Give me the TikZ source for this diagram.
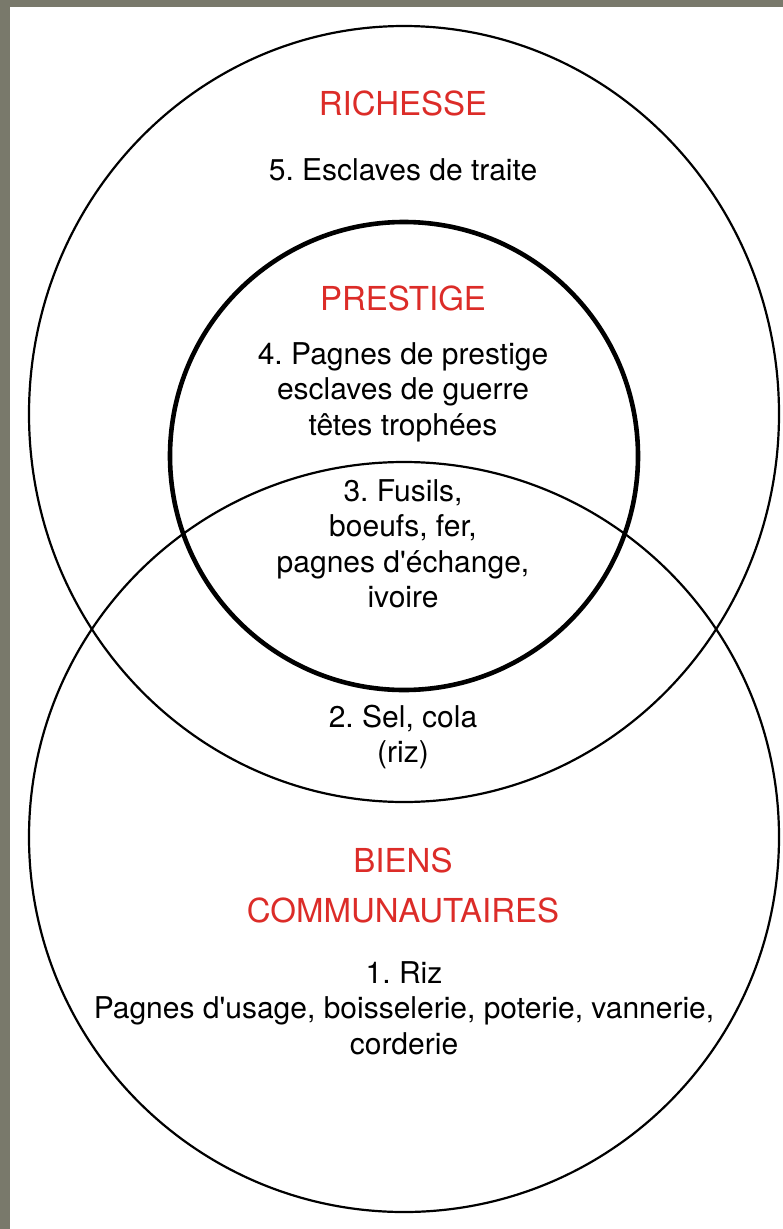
\documentclass[tikz,border=0pt]{standalone}
\usepackage{fontspec}
\setmainfont{TeX Gyre Heros}
\definecolor{frame}{RGB}{121,121,107}
\definecolor{headred}{RGB}{220,44,40}
\newcommand{\apos}{\textquotesingle}
\tikzset{
  ring/.style={draw=black,line width=2.2pt},
  thickring/.style={draw=black,line width=4.6pt},
  heading/.style={text=headred,font=\fontsize{33}{50}\selectfont,align=center,inner sep=0pt},
  body/.style={text=black,font=\fontsize{30}{35.5}\selectfont,align=center,inner sep=0pt}
}
\begin{document}
\frenchspacing
\begin{tikzpicture}[x=1pt,y=-1pt]
\useasboundingbox (0,0) rectangle (783,1229);
\fill[frame] (0,0) rectangle (783,1229);
\fill[white] (10,7) rectangle (783,1229);
% circles
\draw[ring] (404,414) ellipse [x radius=375pt, y radius=388pt];
\draw[ring] (404,837) circle [radius=375pt];
\draw[thickring] (404,456) circle [radius=234pt];
% texts
\node[heading] (richesse) at (403,103) {RICHESSE};
\node[body] (esclaves) at (403,170) {5. Esclaves de traite};
\node[heading] (prestige) at (403,298) {PRESTIGE};
\node[body] (pagnes) at (403,392) {4. Pagnes de prestige\\esclaves de guerre\\têtes trophées};
\node[body] (fusils) at (403,544) {3. Fusils,\\boeufs, fer,\\pagnes d\apos échange,\\ivoire};
\node[body] (sel) at (403,737) {2. Sel, cola\\(riz)};
\node[heading] (biens) at (403,885) {BIENS\\COMMUNAUTAIRES};
\node[body] (riz) at (404,1008) {1. Riz\\Pagnes d\apos usage, boisselerie, poterie, vannerie,\\corderie};
\end{tikzpicture}
\end{document}
